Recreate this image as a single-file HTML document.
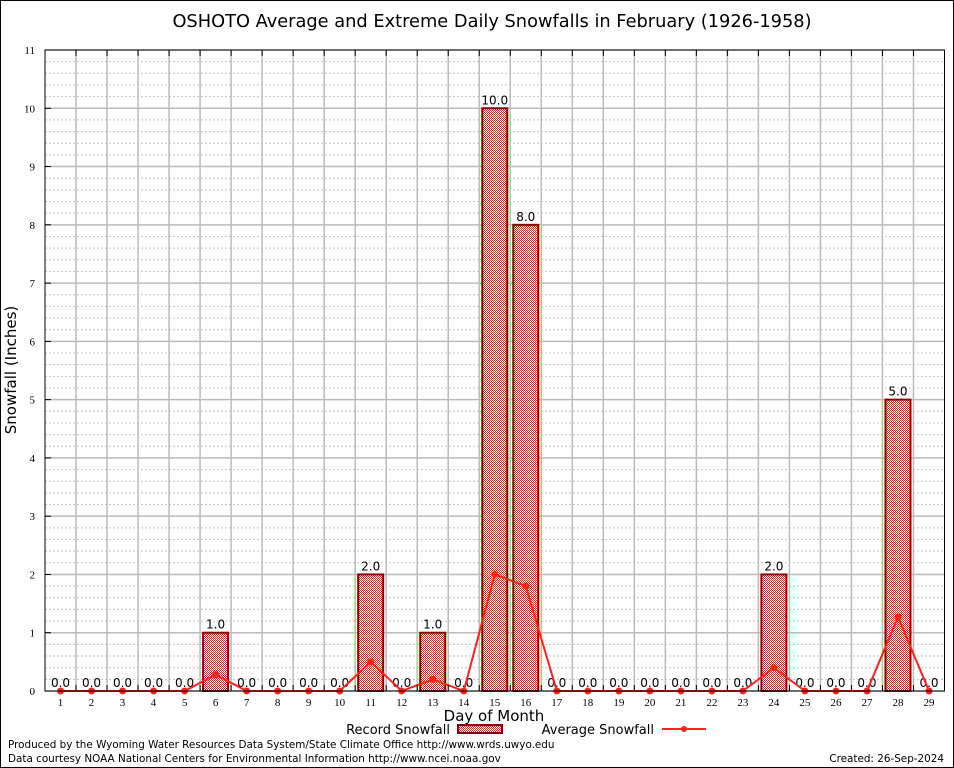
<!DOCTYPE html>
<html><head><meta charset="utf-8"><style>
body{margin:0;background:#fff;}
svg{display:block;font-family:"DejaVu Sans","Liberation Sans",sans-serif;}
</style></head><body>
<svg id="chart" width="954" height="768" viewBox="0 0 954 768">
<defs>
<pattern id="chk" width="2" height="2" patternUnits="userSpaceOnUse">
<rect width="2" height="2" fill="#fff"/><rect width="1" height="1" fill="#c03030"/><rect x="1" y="1" width="1" height="1" fill="#c03030"/>
</pattern>
</defs>
<rect x="0.5" y="0.5" width="953" height="767" fill="#fff" stroke="#000"/>
<text x="492" y="27" text-anchor="middle" font-size="17.8">OSHOTO Average and Extreme Daily Snowfalls in February (1926-1958)</text>
<g id="grid"></g>
<g id="bars"></g>
<g id="avg"></g>
<g id="axes"></g>
<text x="16" y="370" text-anchor="middle" font-size="15" transform="rotate(-90 16 370)">Snowfall (Inches)</text>
<text x="494" y="721" text-anchor="middle" font-size="15">Day of Month</text>
<g>
<text x="450" y="734" text-anchor="end" font-size="13">Record Snowfall</text>
<rect x="458" y="725" width="44" height="8" fill="url(#chk)" stroke="#8b0000" stroke-width="2"/>
<text x="654" y="734" text-anchor="end" font-size="13">Average Snowfall</text>
<line x1="662" y1="729" x2="706" y2="729" stroke="#ff2020" stroke-width="2"/>
<circle cx="684" cy="729" r="3" fill="#ff2020"/>
</g>
<text x="8" y="748" font-size="10.4">Produced by the Wyoming Water Resources Data System/State Climate Office http://www.wrds.uwyo.edu</text>
<text x="8" y="762" font-size="10.4">Data courtesy NOAA National Centers for Environmental Information http://www.ncei.noaa.gov</text>
<text x="944" y="762" text-anchor="end" font-size="10.4">Created:  26-Sep-2024</text>
</svg>
<script>
const days=[1,2,3,4,5,6,7,8,9,10,11,12,13,14,15,16,17,18,19,20,21,22,23,24,25,26,27,28,29];
const recordValues=[0,0,0,0,0,1,0,0,0,0,2,0,1,0,10,8,0,0,0,0,0,0,0,2,0,0,0,5,0];
const averageValues=[0,0,0,0,0,0.28,0,0,0,0,0.5,0,0.2,0,2.0,1.8,0,0,0,0,0,0,0,0.4,0,0,0,1.27,0];
const yTicks=[0,1,2,3,4,5,6,7,8,9,10,11];
const NS="http://www.w3.org/2000/svg";
const L=45,R=944.5,T=50,B=691,YMAX=11;
const step=(R-L)/days.length;
const xs=d=>L+step*(d-0.5);
const ys=v=>B-(B-T)*v/YMAX;
function mk(p,tag,a){const e=document.createElementNS(NS,tag);for(const k in a)e.setAttribute(k,a[k]);p.appendChild(e);return e;}
const grid=document.getElementById('grid'),bars=document.getElementById('bars'),avg=document.getElementById('avg'),axes=document.getElementById('axes');
for(let i=0;i<YMAX*5;i++){const v=i/5;if(i%5===0)continue;
const ln=mk(grid,'line',{x1:L,x2:R,y1:ys(v),y2:ys(v),stroke:'#c4c4c4','stroke-width':1,'stroke-dasharray':'2,2'});

}
yTicks.forEach(v=>{const ln=mk(grid,'line',{x1:L,x2:R,y1:ys(v),y2:ys(v),stroke:'#bbb','stroke-width':1.5});


const t=mk(axes,'text',{x:L-10,y:ys(v)+4,'text-anchor':'end','font-size':11,'font-family':'Liberation Serif,serif'});t.textContent=v;


const tk=mk(axes,'line',{x1:L,x2:L+6,y1:ys(v),y2:ys(v),stroke:'#000'});

});
for(let i=1;i<days.length;i++){const x=L+step*i;const ln=mk(grid,'line',{x1:x,x2:x,y1:T,y2:B,stroke:'#bbb','stroke-width':1.5});


const tk=mk(axes,'line',{x1:x,x2:x,y1:T,y2:T+6,stroke:'#000'});
const tb=mk(axes,'line',{x1:x,x2:x,y1:B,y2:B-6,stroke:'#000'});}
days.forEach((d,i)=>{const v=recordValues[i],x=xs(d);
if(v>0){const r=mk(bars,'rect',{x:x-12.5,y:ys(v),width:25,height:B-ys(v),fill:'url(#chk)',stroke:'#8b0000','stroke-width':2});

}
const t=mk(bars,'text',{x:x,y:ys(v)-4,'text-anchor':'middle','font-size':12});t.textContent=v.toFixed(1);


const dl=mk(axes,'text',{x:x,y:B+15,'text-anchor':'middle','font-size':11,'font-family':'Liberation Serif,serif'});dl.textContent=d;

});
const pl=mk(avg,'polyline',{points:days.map((d,i)=>xs(d)+','+ys(averageValues[i])).join(' '),fill:'none',stroke:'#ff2020','stroke-width':2});


days.forEach((d,i)=>{const c=mk(avg,'circle',{cx:xs(d),cy:ys(averageValues[i]),r:3.5,fill:'#ff2020'});

});
const fr=mk(axes,'rect',{x:L,y:T,width:R-L,height:B-T,fill:'none',stroke:'#000','stroke-width':1});


</script>
</body></html>
